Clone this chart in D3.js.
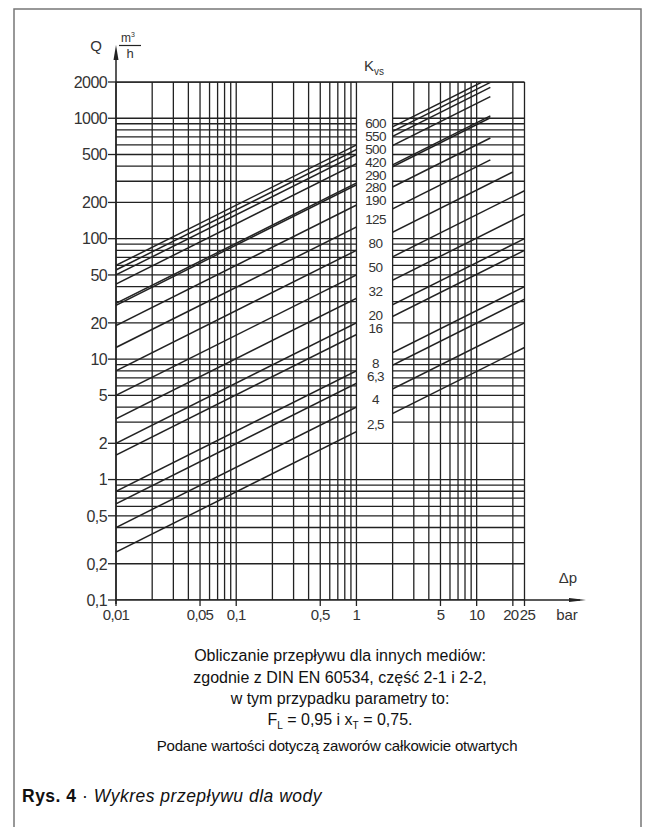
<!DOCTYPE html>
<html>
<head>
<meta charset="utf-8">
<script src="https://cdn.jsdelivr.net/npm/d3@7/dist/d3.min.js"></script>
<style>
  html, body { margin: 0; padding: 0; background: #fff; }
  svg { display: block; font-family: "Liberation Sans", Arial, sans-serif; }
</style>
</head>
<body>
<svg id="chart" width="646" height="827"></svg>
<script>
// ---- data ----
const kvs       = [600, 550, 500, 420, 290, 280, 190, 125, 80, 50, 32, 20, 16, 8, 6.3, 4, 2.5];
const kvsLabels = ["600","550","500","420","290","280","190","125","80","50","32","20","16","8","6,3","4","2,5"];
const dpMax     = [13, 13, 13, 13, 13, 13, 13, 13, 20, 25, 25, 25, 25, 25, 25, 25, 25];
const yTickValues = [2000, 1000, 500, 200, 100, 50, 20, 10, 5, 2, 1, 0.5, 0.2, 0.1];
const yTickLabels = ["2000","1000","500","200","100","50","20","10","5","2","1","0,5","0,2","0,1"];
const xTickValues = [0.01, 0.05, 0.1, 0.5, 1, 5, 10, 20, 25];
const xTickLabels = ["0,01","0,05","0,1","0,5","1","5","10","20","25"];
const noteLines = [
  "Obliczanie przepływu dla innych mediów:",
  "zgodnie z DIN EN 60534, część 2-1 i 2-2,",
  "w tym przypadku parametry to:"
];

const svg = d3.select("#chart");
const ink = "#222";
const txt = "#333";

const x = d3.scaleLog().domain([0.01, 25]).range([116, 524.5]);
const y = d3.scaleLog().domain([0.1, 2000]).range([600, 82]);
const X0 = x(0.01), X1 = x(25), Y0 = y(0.1), Y1 = y(2000);

// frame
svg.append("path").attr("d", "M14,827V9H641V827")
  .attr("fill", "none").attr("stroke", "#777").attr("stroke-width", 1.5);

// Kvs label positions (relaxed to avoid overlap)
const labs = kvs.map((k, i) => ({ t: kvsLabels[i], y: y(k * 1.15) }));
const gapMin = 12.8;
for (let it = 0; it < 400; it++) {
  for (let i = 0; i < labs.length - 1; i++) {
    const g = labs[i + 1].y - labs[i].y;
    if (g < gapMin) { const d = (gapMin - g) / 2; labs[i].y -= d; labs[i + 1].y += d; }
  }
}
const bandL = x(1), bandR = x(2);
const bandBottom = labs[labs.length - 1].y + 9;

// clip: plot area minus label band
const defs = svg.append("defs");
const cp = defs.append("clipPath").attr("id", "plotClip");
cp.append("rect").attr("x", X0).attr("y", Y1).attr("width", bandL - X0).attr("height", Y0 - Y1);
cp.append("rect").attr("x", bandR).attr("y", Y1).attr("width", X1 - bandR).attr("height", Y0 - Y1);
cp.append("rect").attr("x", bandL).attr("y", bandBottom).attr("width", bandR - bandL).attr("height", Y0 - bandBottom);

const gClip = svg.append("g").attr("clip-path", "url(#plotClip)");

// horizontal grid
const yGrid = y.ticks();
gClip.selectAll("line.hg").data(yGrid).join("line")
  .attr("x1", X0).attr("x2", X1)
  .attr("y1", d => y(d)).attr("y2", d => y(d))
  .attr("stroke", ink).attr("stroke-width", 1.3);

// diagonal Kvs lines: Q = Kvs * sqrt(dp)
gClip.selectAll("line.kv").data(kvs).join("line")
  .attr("x1", x(0.01)).attr("y1", d => y(d * Math.sqrt(0.01)))
  .attr("x2", (d, i) => x(dpMax[i])).attr("y2", (d, i) => y(d * Math.sqrt(dpMax[i])))
  .attr("stroke", ink).attr("stroke-width", 1.5);

// vertical grid (full height)
const xGrid = x.ticks().concat([25]);
svg.selectAll("line.vg").data(xGrid).join("line")
  .attr("x1", d => x(d)).attr("x2", d => x(d))
  .attr("y1", Y1).attr("y2", Y0)
  .attr("stroke", ink).attr("stroke-width", 1.3);

// top border across band
svg.append("line").attr("x1", X0).attr("x2", X1).attr("y1", Y1).attr("y2", Y1)
  .attr("stroke", ink).attr("stroke-width", 1.3);

// Kvs labels
svg.selectAll("text.kl").data(labs).join("text")
  .attr("x", (bandL + bandR) / 2 + 1).attr("y", d => d.y).attr("dy", "0.35em")
  .attr("text-anchor", "middle").attr("font-size", 13.5).attr("letter-spacing", -0.6)
  .attr("fill", txt).text(d => d.t);

// Kvs title
const kt = svg.append("text").attr("x", 364).attr("y", 71).attr("font-size", 15).attr("fill", txt);
kt.append("tspan").text("K");
kt.append("tspan").attr("font-size", 10).attr("dy", 4).text("vs");

// y axis
svg.append("line").attr("x1", X0).attr("x2", X0).attr("y1", Y0 + 4).attr("y2", 52)
  .attr("stroke", ink).attr("stroke-width", 1.5);
svg.append("path").attr("d", `M${X0},45L${X0 - 2.5},60L${X0 + 2.5},60Z`).attr("fill", ink);
svg.selectAll("line.yt").data(yTickValues).join("line")
  .attr("x1", X0 - 8).attr("x2", X0).attr("y1", d => y(d)).attr("y2", d => y(d))
  .attr("stroke", ink).attr("stroke-width", 1.3);
svg.selectAll("text.yl").data(yTickValues).join("text")
  .attr("x", X0 - 9).attr("y", d => y(d)).attr("dy", "0.36em")
  .attr("text-anchor", "end").attr("font-size", 16).attr("letter-spacing", -0.6)
  .attr("fill", txt).text((d, i) => yTickLabels[i]);

// Q label
svg.append("text").attr("x", 96).attr("y", 51).attr("text-anchor", "middle")
  .attr("font-size", 15).attr("fill", txt).text("Q");
const mt = svg.append("text").attr("x", 128).attr("y", 42).attr("text-anchor", "middle")
  .attr("font-size", 12).attr("fill", txt);
mt.append("tspan").text("m");
mt.append("tspan").attr("font-size", 7).attr("dy", -5).text("3");
svg.append("line").attr("x1", 119).attr("x2", 141).attr("y1", 45.5).attr("y2", 45.5)
  .attr("stroke", ink).attr("stroke-width", 1.2);
svg.append("text").attr("x", 130).attr("y", 58).attr("text-anchor", "middle")
  .attr("font-size", 13).attr("fill", txt).text("h");

// x axis
svg.append("line").attr("x1", X0).attr("x2", 580).attr("y1", Y0).attr("y2", Y0)
  .attr("stroke", ink).attr("stroke-width", 1.5);
svg.append("path").attr("d", `M586,${Y0}L569,${Y0 - 2}L569,${Y0 + 2}Z`).attr("fill", ink);
svg.selectAll("line.xt").data(xTickValues).join("line")
  .attr("x1", d => x(d)).attr("x2", d => x(d)).attr("y1", Y0).attr("y2", Y0 + 6)
  .attr("stroke", ink).attr("stroke-width", 1.3);
svg.selectAll("text.xl").data(xTickValues).join("text")
  .attr("x", (d, i) => x(d) + (i === 7 ? -2 : i === 8 ? 3 : 0)).attr("y", Y0 + 20)
  .attr("text-anchor", "middle").attr("font-size", 15).attr("letter-spacing", -0.7)
  .attr("fill", txt).text((d, i) => xTickLabels[i]);
svg.append("text").attr("x", 567).attr("y", Y0 + 20).attr("text-anchor", "middle")
  .attr("font-size", 15).attr("fill", txt).text("bar");
svg.append("text").attr("x", 568).attr("y", Y0 - 17).attr("text-anchor", "middle")
  .attr("font-size", 15).attr("fill", txt).text("Δp");

// notes
const cx = 340;
noteLines.forEach((s, i) => {
  svg.append("text").attr("x", cx).attr("y", 661 + i * 21.5).attr("text-anchor", "middle")
    .attr("font-size", 16).attr("fill", "#111").text(s);
});
const fl = svg.append("text").attr("x", cx).attr("y", 725).attr("text-anchor", "middle")
  .attr("font-size", 16).attr("fill", "#111");
fl.append("tspan").text("F");
fl.append("tspan").attr("font-size", 10).attr("dy", 4).text("L");
fl.append("tspan").attr("dy", -4).text(" = 0,95 i x");
fl.append("tspan").attr("font-size", 10).attr("dy", 4).text("T");
fl.append("tspan").attr("dy", -4).text(" = 0,75.");
svg.append("text").attr("x", 337).attr("y", 751).attr("text-anchor", "middle")
  .attr("font-size", 15).attr("letter-spacing", -0.2).attr("fill", "#111")
  .text("Podane wartości dotyczą zaworów całkowicie otwartych");

// caption
const cap = svg.append("text").attr("x", 22).attr("y", 802).attr("font-size", 17.5)
  .attr("letter-spacing", 0.5).attr("fill", "#111");
cap.append("tspan").attr("font-weight", "bold").text("Rys. 4");
cap.append("tspan").text(" · ");
cap.append("tspan").attr("font-style", "italic").text("Wykres przepływu dla wody");
</script>
</body>
</html>
